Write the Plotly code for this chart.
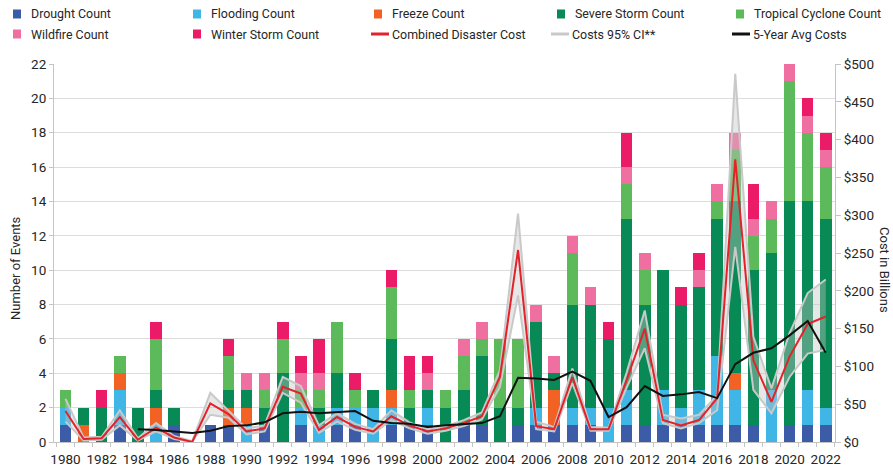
import plotly.graph_objects as go

years = list(range(1980, 2023))

drought = [1,0,0,1,0,0,1,0,1,1, 0,1,0,1,0,1,1,0,1,1, 1,0,1,1,0,1,1,1,1,1, 0,1,1,1,1,1,1,1,1,0, 1,1,1]
flooding = [1,0,0,2,0,1,0,0,0,0, 1,0,0,1,1,1,1,2,1,0, 1,0,0,0,0,0,1,0,1,1, 2,2,0,2,1,2,4,2,0,3, 0,2,1]
freeze = [0,1,0,1,0,1,0,0,0,1, 1,0,0,0,0,0,0,0,1,0, 0,0,0,0,0,0,0,2,0,0, 0,0,0,0,0,0,0,1,0,0, 0,0,0]
severe = [0,1,2,0,2,1,1,0,0,1, 1,1,4,0,1,2,0,1,3,1, 1,2,2,4,2,1,5,1,6,6, 4,10,7,7,6,6,8,10,9,8, 13,11,11]
tropical = [1,0,0,1,0,3,0,0,0,2, 0,1,2,1,1,3,1,0,3,1, 0,1,2,1,4,4,0,0,3,0, 0,2,2,0,0,0,1,3,2,2, 7,4,3]
wildfire = [0,0,0,0,0,0,0,0,0,0, 1,1,0,1,1,0,0,0,0,0, 1,0,1,1,0,0,1,1,1,1, 0,1,1,0,0,1,1,1,1,1, 1,1,1]
winter = [0,0,1,0,0,1,0,0,0,1, 0,0,1,1,2,0,1,0,1,2, 1,0,0,0,0,0,0,0,0,0, 1,2,0,0,1,1,0,0,2,0, 0,1,1]

cost = [41,4,5,33,3,19,6,0,51,37, 14,18,73,64,16,33,20,14,34,22,
        14,18,25,34,86,254,21,17,86,17, 17,82,150,29,22,29,58,374,108,53,
        113,156,166]
cost_hi = [57,6,7,42,5,25,8,1,65,42, 18,22,86,74,22,38,24,17,42,26,
           17,21,29,39,95,302,27,20,97,20, 19,92,174,36,31,36,62,487,139,71,
           144,197,215]
cost_lo = [27,2,3,22,2,14,4,0,36,32, 10,14,65,52,12,27,16,11,29,18,
           11,15,21,30,73,194,17,14,78,15, 15,72,124,25,18,25,42,258,69,38,
           86,117,122]
avg5 = [None,None,None,None,17,16,14,12,15,21, 22,26,38,40,38,40,41,28,25,24,
        20,22,24,25,34,85,84,82,93,81, 33,46,74,61,63,66,58,103,118,124,
        141,160,118]

bar_series = [
    ("Drought Count", drought, "#3d5ca8"),
    ("Flooding Count", flooding, "#3fb6e6"),
    ("Freeze Count", freeze, "#f26224"),
    ("Severe Storm Count", severe, "#078a56"),
    ("Tropical Cyclone Count", tropical, "#5cba5b"),
    ("Wildfire Count", wildfire, "#f06fa1"),
    ("Winter Storm Count", winter, "#ec1b68"),
]

FONT = "Roboto"
TXT = "#262626"

fig = go.Figure()
for name, vals, color in bar_series:
    fig.add_trace(go.Bar(x=years, y=vals, name=name, marker_color=color,
                         marker_line_width=0, width=0.64, showlegend=False))

fig.add_trace(go.Scatter(x=years, y=cost_lo, yaxis="y2", mode="lines",
                         line=dict(color="#c9c9c9", width=2), showlegend=False))
fig.add_trace(go.Scatter(x=years, y=cost_hi, yaxis="y2", mode="lines", fill="tonexty",
                         fillcolor="rgba(195,195,195,0.4)",
                         line=dict(color="#c9c9c9", width=2), name="Costs 95% CI**",
                         showlegend=False))
fig.add_trace(go.Scatter(x=years, y=cost, yaxis="y2", mode="lines",
                         line=dict(color="#e4222a", width=2), name="Combined Disaster Cost",
                         showlegend=False))
fig.add_trace(go.Scatter(x=years, y=avg5, yaxis="y2", mode="lines",
                         line=dict(color="#111111", width=2), name="5-Year Avg Costs",
                         showlegend=False))

L, R, T, B = 54, 835, 64, 442
W, H = R - L, B - T
def px(x):
    return (x - L) / W
def py(y):
    return (B - y) / H

shapes = []
annotations = []
legend_items = [
    ("Drought Count", "#3d5ca8", "box", 17, 14),
    ("Flooding Count", "#3fb6e6", "box", 197, 14),
    ("Freeze Count", "#f26224", "box", 378, 14),
    ("Severe Storm Count", "#078a56", "box", 561, 14),
    ("Tropical Cyclone Count", "#5cba5b", "box", 740, 14),
    ("Wildfire Count", "#f06fa1", "box", 17, 34),
    ("Winter Storm Count", "#ec1b68", "box", 197, 34),
    ("Combined Disaster Cost", "#e4222a", "line", 380, 34),
    ("Costs 95% CI**", "#c9c9c9", "line", 560, 34),
    ("5-Year Avg Costs", "#111111", "line", 741, 34),
]
for label, color, kind, cx, cy in legend_items:
    if kind == "box":
        shapes.append(dict(type="rect", xref="paper", yref="paper",
                           x0=px(cx - 4), x1=px(cx + 4), y0=py(cy + 4.5), y1=py(cy - 4.5),
                           fillcolor=color, line=dict(width=0)))
        tx = cx + 12
    else:
        shapes.append(dict(type="line", xref="paper", yref="paper",
                           x0=px(cx - 9), x1=px(cx + 9), y0=py(cy), y1=py(cy),
                           line=dict(color=color, width=3)))
        tx = cx + 10
    annotations.append(dict(text=label, xref="paper", yref="paper", x=px(tx), y=py(cy),
                            xanchor="left", yanchor="middle", showarrow=False,
                            font=dict(family=FONT, size=12.4, color=TXT)))

annotations.append(dict(text="Number of Events", xref="paper", yref="paper",
                        x=px(15), y=py(268), textangle=-90, showarrow=False,
                        xanchor="center", yanchor="middle",
                        font=dict(family=FONT, size=13, color=TXT)))
annotations.append(dict(text="Cost in Billions", xref="paper", yref="paper",
                        x=px(885), y=py(270), textangle=90, showarrow=False,
                        xanchor="center", yanchor="middle",
                        font=dict(family=FONT, size=13, color=TXT)))

fig.update_layout(
    width=893, height=467,
    margin=dict(l=L, r=893 - R, t=T, b=467 - B, autoexpand=False),
    barmode="stack",
    plot_bgcolor="white", paper_bgcolor="white",
    font=dict(family=FONT, size=13, color=TXT),
    showlegend=False,
    shapes=shapes, annotations=annotations,
    xaxis=dict(range=[1979.365, 2022.51], tickmode="array", automargin=False,
               tickvals=years[::2], ticktext=[str(y) for y in years[::2]],
               ticks="", ticklabelstandoff=5, showline=True, linecolor="#c4c4c4", showgrid=False,
               zeroline=False, tickfont=dict(size=13.5),
               minor=dict(tick0=1979.5, dtick=1, ticks="outside", ticklen=4,
                          tickcolor="#c4c4c4", showgrid=False)),
    yaxis=dict(range=[0, 22], dtick=2, showgrid=True, gridcolor="#dcdcdc", automargin=False,
               showline=True, linecolor="#c4c4c4", ticks="outside", ticklen=4,
               tickcolor="#c4c4c4", zeroline=False, tickfont=dict(size=13.5)),
    yaxis2=dict(range=[0, 500], dtick=50, tickprefix="$", overlaying="y", side="right",
                automargin=False,
                showgrid=False, showline=True, linecolor="#c4c4c4", ticks="outside",
                ticklen=5, tickcolor="#c4c4c4", zeroline=False, tickfont=dict(size=13.5)),
)

fig.write_html("out.html", config={"displayModeBar": False},
               post_script="document.body.style.margin='0';document.body.style.overflow='hidden';")
